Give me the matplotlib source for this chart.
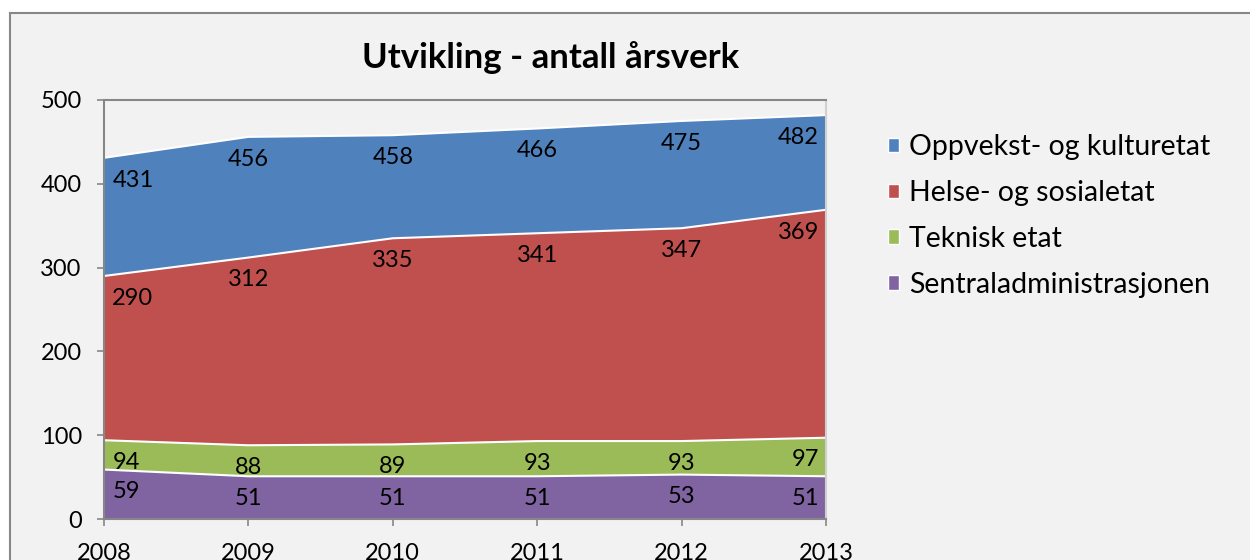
import matplotlib.pyplot as plt
from matplotlib.patches import Rectangle, Patch

plt.rcParams['font.family'] = ['Lato', 'DejaVu Sans']

years = [2008, 2009, 2010, 2011, 2012, 2013]
# cumulative values as labelled in the chart
sentral = [59, 51, 51, 51, 53, 51]
teknisk = [94, 88, 89, 93, 93, 97]
helse = [290, 312, 335, 341, 347, 369]
oppvekst = [431, 456, 458, 466, 475, 482]

series = [
    ("Oppvekst- og kulturetat", oppvekst, "#4F81BD"),
    ("Helse- og sosialetat", helse, "#C0504D"),
    ("Teknisk etat", teknisk, "#9BBB59"),
    ("Sentraladministrasjonen", sentral, "#8064A2"),
]

fig = plt.figure(figsize=(12.5, 5.6), dpi=100)
fig.patch.set_facecolor("white")

# chart frame behind everything
bg = fig.add_axes([0, 0, 1, 1], zorder=-10)
bg.axis("off")
bg.set_xlim(0, 1)
bg.set_ylim(0, 1)
bg.add_patch(Rectangle((10 / 1250, -0.1), 1.1, 0.1 + 1 - 13 / 560,
                       facecolor="#F2F2F2", edgecolor="#878787", linewidth=1.5))

ax = fig.add_axes([104 / 1250, 1 - 519 / 560, 722 / 1250, 419 / 560])
ax.set_facecolor("none")

for name, vals, color in series:
    ax.fill_between(years, 0, vals, facecolor=color, edgecolor="none")
    ax.plot(years, vals, color="white", linewidth=1.5)

for name, vals, color in series:
    for i, (x, v) in enumerate(zip(years, vals)):
        ha = "center"
        dx = 0
        if i == 0:
            ha = "left"
            dx = 6
        elif i == len(years) - 1:
            ha = "right"
            dx = -5
        ax.annotate(str(v), (x, v), xytext=(dx, -16), textcoords="offset points",
                    ha=ha, va="center", fontsize=17, color="black")

ax.set_xlim(2008, 2013)
ax.set_ylim(0, 500)
ax.set_yticks(range(0, 501, 100))
ax.set_xticks(years)
ax.tick_params(axis="both", labelsize=17, colors="black", length=5, width=1.2,
               color="#878787")
ax.tick_params(axis="y", pad=11)
ax.tick_params(axis="x", pad=12)
for s in ["left", "bottom", "top"]:
    ax.spines[s].set_color("#878787")
    ax.spines[s].set_linewidth(1.5)
ax.spines["right"].set_color("#D0D0D0")
ax.spines["right"].set_linewidth(1.5)

fig.text(551 / 1250, 1 - 58 / 560, "Utvikling - antall årsverk", ha="center", va="center",
         fontsize=25, fontweight="bold")

handles = [Patch(facecolor=c, edgecolor="white", label=n) for n, v, c in series]
fig.legend(handles=handles, loc="upper left", bbox_to_anchor=(888 / 1250, 1 - 134 / 560),
           frameon=False, fontsize=20.5, handlelength=0.4, handleheight=0.4,
           handletextpad=0.35, labelspacing=0.7, borderaxespad=0, borderpad=0)

plt.savefig("out.png", dpi=100, facecolor="white")
